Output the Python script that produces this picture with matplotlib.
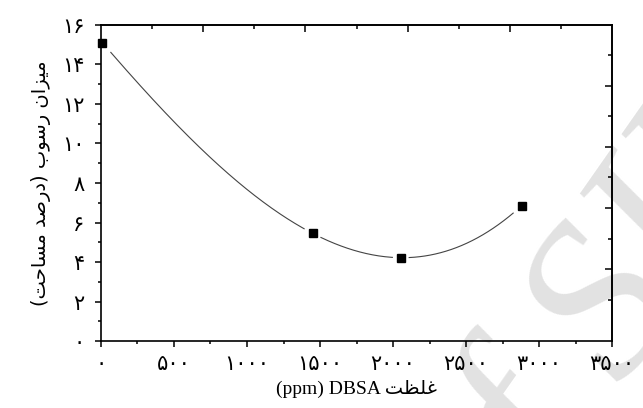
import numpy as np
import matplotlib.pyplot as plt
from matplotlib.ticker import MultipleLocator, FixedLocator, NullFormatter

# data
conc = [10, 1450, 2055, 2880]          # DBSA concentration (ppm)
deposit = [15.1, 5.45, 4.22, 6.85]     # deposit (% area)
x_ticks = [0, 500, 1000, 1500, 2000, 2500, 3000, 3500]
y_ticks = [0, 2, 4, 6, 8, 10, 12, 14, 16]

FA_DIGITS = str.maketrans("0123456789", "۰۱۲۳۴۵۶۷۸۹")

# arabic presentation forms: (isolated, final, initial, medial)
FORMS = {
    "ا": ("\uFE8D", "\uFE8E"), "د": ("\uFEA9", "\uFEAA"), "ر": ("\uFEAD", "\uFEAE"),
    "ز": ("\uFEAF", "\uFEB0"), "و": ("\uFEED", "\uFEEE"),
    "ب": ("\uFE8F", "\uFE90", "\uFE91", "\uFE92"), "ت": ("\uFE95", "\uFE96", "\uFE97", "\uFE98"),
    "ح": ("\uFEA1", "\uFEA2", "\uFEA3", "\uFEA4"), "س": ("\uFEB1", "\uFEB2", "\uFEB3", "\uFEB4"),
    "ص": ("\uFEB9", "\uFEBA", "\uFEBB", "\uFEBC"), "ظ": ("\uFEC5", "\uFEC6", "\uFEC7", "\uFEC8"),
    "غ": ("\uFECD", "\uFECE", "\uFECF", "\uFED0"), "ل": ("\uFEDD", "\uFEDE", "\uFEDF", "\uFEE0"),
    "م": ("\uFEE1", "\uFEE2", "\uFEE3", "\uFEE4"), "ن": ("\uFEE5", "\uFEE6", "\uFEE7", "\uFEE8"),
    "ی": ("\uFBFC", "\uFBFD", "\uFEF3", "\uFEF4"),
}


def fa(n):
    return str(n).translate(FA_DIGITS)


def rtl(text):
    out = []
    for i, ch in enumerate(text):
        if ch not in FORMS:
            out.append(ch)
            continue
        prev = text[i - 1] if i > 0 else ""
        nxt = text[i + 1] if i + 1 < len(text) else ""
        join_prev = prev in FORMS and len(FORMS[prev]) == 4
        join_next = nxt in FORMS and len(FORMS[ch]) == 4
        f = FORMS[ch]
        if join_prev and join_next:
            out.append(f[3])
        elif join_prev:
            out.append(f[1])
        elif join_next:
            out.append(f[2])
        else:
            out.append(f[0])
    vis = "".join(reversed(out))
    return vis.translate(str.maketrans("()", ")("))


fig = plt.figure(figsize=(6.43, 4.08), dpi=100)
ax = fig.add_axes([0.157, 0.164, 0.795, 0.775])
ax.set_facecolor("none")

# watermark, behind everything
fig.text(0.765, -0.41, "of SID", rotation=55, rotation_mode="anchor", fontsize=160,
         color="#e2e2e2", family="Liberation Serif", style="italic",
         ha="left", va="baseline", zorder=-1)

# smooth curve through the points, with small gaps at the markers
coef = np.polyfit(conc, deposit, 3)
xs = np.linspace(conc[0], conc[-1], 400)
ys = np.polyval(coef, xs)
for xd in conc:
    ys = np.where(np.abs(xs - xd) < 55, np.nan, ys)
ax.plot(xs, ys, color="#444444", lw=0.8)
ax.plot(conc, deposit, ls="none", marker="s", ms=6, color="black", clip_on=False)

ax.set_xlim(0, 3500)
ax.set_ylim(0, 16)
ax.xaxis.set_major_locator(FixedLocator(x_ticks))
ax.xaxis.set_minor_locator(MultipleLocator(250))
ax.yaxis.set_major_locator(FixedLocator(y_ticks))
ax.yaxis.set_minor_locator(MultipleLocator(1))
ax.set_xticklabels([fa(v) for v in x_ticks], family="DejaVu Sans", fontsize=15)
ax.set_yticklabels([fa(v) for v in y_ticks], family="DejaVu Sans", fontsize=15)
ax.tick_params(which="major", direction="out", length=4.5, width=1.1, pad=5)
ax.tick_params(which="minor", direction="out", length=2.5, width=1.1)
ax.tick_params(axis="y", which="major", length=4, pad=8)

for s in ax.spines.values():
    s.set_linewidth(1.2)

top = ax.secondary_xaxis("top", functions=(lambda x: x / 350, lambda x: x * 350))
top.xaxis.set_major_locator(FixedLocator([2, 4, 6, 8]))
top.xaxis.set_minor_locator(FixedLocator([1, 3, 5, 7, 9]))
top.xaxis.set_major_formatter(NullFormatter())
top.tick_params(which="major", direction="in", length=5, width=1.1)
top.tick_params(which="minor", direction="in", length=3, width=1.1)

right = ax.secondary_yaxis("right", functions=(lambda y: y * 10.32 / 16 - 1.34,
                                               lambda y: (y + 1.34) * 16 / 10.32))
right.yaxis.set_major_locator(FixedLocator([1, 3, 5, 7]))
right.yaxis.set_minor_locator(FixedLocator([0, 2, 4, 6, 8]))
right.yaxis.set_major_formatter(NullFormatter())
right.tick_params(which="major", direction="in", length=5, width=1.1)
right.tick_params(which="minor", direction="in", length=3, width=1.1)
for sec in (top, right):
    for s in sec.spines.values():
        s.set_linewidth(1.2)

ax.set_xlabel("(ppm) DBSA " + rtl("غلظت"), family=["Liberation Serif", "DejaVu Sans"],
              fontsize=14, labelpad=4)
ax.set_ylabel(rtl("میزان رسوب (درصد مساحت)"), family="DejaVu Sans", fontsize=14, labelpad=8)

fig.savefig("out.png", dpi=100)
